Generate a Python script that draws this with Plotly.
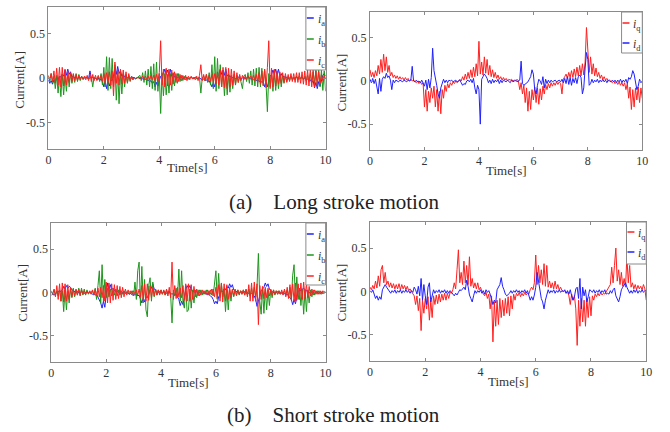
import numpy as np
import plotly.graph_objects as go

TIME_STEP = 0.05
N_SAMPLES = 201
TIME = np.round(np.arange(N_SAMPLES) * TIME_STEP, 2)

X_TICKS = [0, 2, 4, 6, 8, 10]
Y_TICKS = [-0.5, 0, 0.5]
Y_TICK_LABELS = ["-0.5", "0", "0.5"]

# (a) long stroke, phase currents
LONG_IA = [
    -0.02, -0.06, -0.03, -0.07, -0.02, -0.05, 0.01, -0.02, 0.02, 0.01, 0.04, 0.02, 0.09, 0.03, 0.10, 0.04, 0.07, 0.01, 0.02, 0.00,
    0.01, -0.01, 0.01, 0.00, 0.01, -0.01, 0.00, 0.01, 0.00, -0.01, 0.08, 0.00, 0.01, -0.01, 0.00, -0.02, 0.00, -0.03, -0.01, -0.04,
    -0.10, -0.03, -0.12, -0.04, -0.09, -0.02, -0.03, 0.02, 0.12, 0.04, 0.13, 0.05, 0.08, 0.02, 0.04, 0.01, 0.02, 0.00, 0.01, 0.00,
    0.00, 0.01, 0.00, -0.01, 0.00, 0.01, -0.01, 0.00, -0.01, -0.02, -0.01, -0.03, -0.02, -0.04, -0.03, -0.06, -0.04, -0.10, -0.05, -0.09,
    -0.03, 0.02, 0.03, 0.05, 0.10, 0.04, 0.09, 0.03, 0.10, 0.02, 0.05, 0.01, 0.02, 0.00, 0.01, 0.00, 0.01, -0.01, 0.00, 0.01,
    0.00, -0.01, 0.00, 0.01, 0.00, -0.01, 0.01, 0.00, -0.01, 0.00, -0.01, -0.02, -0.01, -0.03, -0.02, -0.04, -0.03, -0.06, -0.10, -0.05,
    -0.10, -0.03, 0.02, 0.04, 0.10, 0.04, 0.09, 0.03, 0.10, 0.02, 0.04, 0.01, 0.02, 0.00, 0.01, -0.01, 0.00, 0.01, 0.00, -0.01,
    0.00, 0.01, -0.01, 0.00, 0.01, 0.00, -0.01, -0.01, -0.02, -0.01, -0.03, -0.02, -0.04, -0.03, -0.05, -0.04, -0.10, -0.05, -0.10, -0.03,
    0.02, 0.04, 0.09, 0.04, 0.10, 0.03, 0.10, 0.02, 0.05, 0.01, 0.02, 0.00, 0.01, -0.01, 0.00, 0.01, 0.00, -0.01, 0.00, 0.01,
    0.00, -0.01, 0.00, 0.01, -0.01, 0.00, -0.02, -0.01, -0.03, -0.02, -0.05, -0.03, -0.11, -0.05, -0.12, -0.04, -0.09, -0.02, 0.03, 0.05,
    0.02,
]
LONG_IB = [
    0.03, -0.04, 0.05, -0.05, 0.02, -0.12, 0.03, -0.17, 0.02, -0.21, 0.04, -0.19, 0.03, -0.15, 0.05, -0.10, 0.05, -0.06, 0.04, -0.05,
    0.05, -0.04, 0.04, -0.03, 0.02, -0.02, 0.01, 0.00, 0.01, -0.01, 0.00, 0.01, -0.10, 0.01, 0.00, -0.02, 0.03, -0.04, 0.05, -0.08,
    0.12, -0.10, 0.24, -0.14, 0.23, -0.12, 0.22, -0.10, 0.15, -0.25, 0.08, -0.29, 0.06, -0.18, 0.05, -0.10, 0.04, -0.06, 0.03, -0.04,
    0.02, -0.02, 0.01, -0.01, 0.00, 0.01, 0.03, -0.03, 0.06, -0.05, 0.08, -0.08, 0.10, -0.10, 0.13, -0.12, 0.16, -0.14, 0.18, -0.15,
    0.05, -0.40, 0.06, -0.20, 0.05, -0.19, 0.04, -0.17, 0.05, -0.14, 0.06, -0.09, 0.05, -0.06, 0.05, -0.04, 0.03, -0.03, 0.02, -0.02,
    0.01, -0.01, 0.00, 0.01, -0.01, 0.00, 0.01, -0.01, 0.00, 0.01, -0.17, 0.00, 0.02, -0.03, 0.04, -0.05, 0.06, -0.08, 0.15, -0.12,
    0.24, -0.15, 0.22, -0.12, 0.15, -0.10, 0.08, -0.20, 0.05, -0.19, 0.04, -0.16, 0.03, -0.12, 0.04, -0.08, 0.03, -0.05, 0.02, -0.04,
    -0.12, 0.02, 0.04, -0.04, 0.06, -0.06, 0.08, -0.08, 0.10, -0.09, 0.11, -0.10, 0.12, -0.10, 0.11, -0.08, 0.10, -0.06, -0.38, 0.05,
    -0.10, 0.04, -0.15, 0.05, -0.14, 0.04, -0.12, 0.03, -0.10, 0.03, -0.06, 0.02, -0.04, 0.02, -0.03, 0.02, -0.02, 0.01, -0.02, 0.02,
    -0.02, 0.02, -0.01, 0.01, -0.02, 0.02, -0.03, 0.03, -0.04, 0.05, -0.05, 0.07, -0.06, 0.09, -0.08, 0.10, -0.10, 0.09, -0.14, 0.08,
    -0.15,
]
LONG_IC = [
    0.02, -0.02, 0.05, -0.04, 0.08, -0.06, 0.11, -0.08, 0.12, -0.10, 0.12, -0.09, 0.10, -0.08, 0.08, -0.05, 0.06, -0.04, 0.05, -0.03,
    0.04, -0.03, 0.03, -0.02, 0.02, -0.01, 0.02, -0.02, 0.03, -0.03, 0.04, -0.04, 0.04, -0.03, 0.03, -0.03, 0.02, -0.02, 0.03, -0.04,
    0.05, -0.06, 0.06, -0.05, 0.07, -0.08, 0.08, -0.20, 0.18, -0.06, 0.10, -0.08, 0.10, -0.07, 0.09, -0.06, 0.07, -0.05, 0.05, -0.03,
    0.02, -0.02, 0.01, -0.01, 0.01, 0.00, 0.01, -0.01, 0.02, -0.01, 0.02, -0.02, 0.02, -0.02, 0.03, -0.02, 0.03, -0.03, 0.04, -0.04,
    0.06, 0.42, -0.08, 0.10, -0.10, 0.11, -0.09, 0.10, -0.08, 0.09, -0.07, 0.07, -0.05, 0.05, -0.04, 0.04, -0.03, 0.03, -0.02, 0.03,
    -0.03, 0.02, -0.02, 0.02, -0.01, 0.01, -0.02, 0.02, -0.03, 0.03, 0.15, -0.03, 0.04, -0.03, 0.04, -0.04, 0.03, -0.04, 0.04, -0.05,
    0.05, -0.06, 0.07, -0.08, 0.09, -0.10, 0.12, -0.11, 0.12, -0.12, 0.11, -0.10, 0.10, -0.08, 0.08, -0.07, 0.06, -0.05, 0.04, -0.03,
    0.03, -0.02, 0.02, -0.02, 0.02, -0.01, 0.02, -0.02, 0.03, -0.03, 0.04, -0.05, 0.06, -0.07, 0.08, -0.09, 0.10, -0.11, 0.12, 0.42,
    -0.12, 0.11, -0.10, 0.10, -0.09, 0.08, -0.07, 0.07, -0.06, 0.06, -0.05, 0.05, -0.05, 0.04, -0.04, 0.05, -0.04, 0.05, -0.05, 0.06,
    -0.05, 0.06, -0.06, 0.07, -0.07, 0.08, -0.08, 0.09, -0.09, 0.10, -0.10, 0.09, -0.10, 0.08, -0.09, 0.07, -0.06, 0.04, -0.03, 0.02,
    0.00,
]

# (a) long stroke, dq currents
LONG_IQ = [
    0.13, 0.05, 0.10, 0.04, 0.12, 0.06, 0.18, 0.08, 0.25, 0.10, 0.31, 0.12, 0.28, 0.10, 0.18, 0.06, 0.10, 0.04, 0.07, 0.03,
    0.06, 0.02, 0.05, 0.02, 0.04, 0.01, 0.04, 0.01, 0.03, 0.00, 0.02, 0.00, 0.01, -0.01, -0.02, 0.00, -0.03, -0.01, -0.04, -0.02,
    -0.30, -0.10, -0.35, -0.12, -0.25, -0.08, -0.20, -0.06, -0.30, -0.10, -0.35, -0.12, -0.38, -0.10, -0.20, -0.05, -0.12, -0.03, -0.08, -0.02,
    -0.05, -0.01, -0.03, 0.00, -0.02, 0.00, 0.02, 0.00, 0.05, 0.01, 0.08, 0.02, 0.10, 0.03, 0.13, 0.04, 0.16, 0.05, 0.20, 0.06,
    0.46, 0.08, 0.22, 0.07, 0.28, 0.09, 0.25, 0.07, 0.18, 0.05, 0.13, 0.04, 0.10, 0.03, 0.07, 0.02, 0.05, 0.01, 0.04, 0.01,
    0.03, 0.00, 0.02, 0.01, 0.02, 0.00, 0.01, 0.00, 0.02, 0.00, -0.10, -0.02, -0.15, -0.05, -0.25, -0.08, -0.35, -0.12, -0.33, -0.10,
    -0.22, -0.07, -0.25, -0.08, -0.27, -0.09, -0.22, -0.06, -0.15, -0.04, -0.10, -0.03, -0.08, -0.02, -0.06, -0.02, -0.05, -0.01, -0.04, -0.01,
    -0.03, -0.15, 0.02, 0.05, 0.08, 0.03, 0.10, 0.04, 0.12, 0.04, 0.14, 0.05, 0.16, 0.06, 0.18, 0.06, 0.20, 0.07, 0.22, 0.62,
    0.30, 0.10, 0.28, 0.08, 0.20, 0.06, 0.15, 0.05, 0.10, 0.03, 0.07, 0.02, 0.05, 0.01, 0.03, 0.00, 0.01, -0.01, -0.02, 0.00,
    -0.03, -0.01, -0.04, -0.01, -0.05, -0.02, -0.06, -0.02, -0.10, -0.03, -0.20, -0.07, -0.33, -0.10, -0.30, -0.08, -0.22, -0.07, -0.25, -0.08,
    -0.20,
]
LONG_ID = [
    0.02, -0.02, 0.03, -0.03, 0.02, -0.05, -0.15, 0.03, -0.12, 0.02, 0.05, 0.03, 0.09, 0.04, 0.06, 0.01, -0.10, 0.01, -0.02, 0.01,
    0.00, -0.01, 0.01, 0.00, -0.01, 0.01, 0.00, -0.01, 0.01, 0.00, 0.01, 0.17, 0.00, -0.01, 0.01, -0.01, 0.00, -0.02, 0.01, -0.03,
    -0.06, 0.01, -0.10, 0.02, -0.08, 0.04, 0.38, 0.12, 0.05, -0.05, -0.15, -0.20, -0.08, -0.03, 0.02, -0.02, 0.01, -0.02, 0.01, 0.00,
    0.01, -0.01, 0.00, 0.01, -0.01, 0.00, 0.01, -0.02, -0.05, -0.03, -0.04, 0.00, 0.01, -0.01, 0.02, -0.02, 0.03, -0.08, -0.15, -0.05,
    -0.10, -0.50, 0.02, 0.05, 0.08, 0.06, 0.03, -0.02, 0.01, -0.03, 0.02, -0.02, 0.01, -0.01, 0.02, -0.03, 0.01, -0.02, 0.01, 0.00,
    -0.01, 0.01, 0.00, -0.02, 0.01, -0.01, 0.00, 0.01, -0.01, 0.00, 0.01, 0.23, -0.03, -0.05, -0.04, -0.02, -0.01, 0.02, 0.05, 0.13,
    0.08, -0.10, -0.15, -0.05, 0.02, 0.00, -0.04, 0.05, -0.08, 0.02, -0.03, 0.01, -0.02, 0.01, -0.01, 0.00, 0.01, -0.01, 0.00, 0.01,
    -0.01, 0.02, -0.02, 0.03, -0.03, 0.05, -0.04, 0.04, -0.05, 0.03, -0.02, 0.04, -0.03, 0.05, 0.07, 0.04, -0.15, -0.08, 0.15, 0.33,
    0.25, -0.05, -0.03, 0.02, -0.02, 0.01, -0.01, 0.02, -0.02, 0.01, -0.01, 0.02, -0.01, 0.01, -0.02, 0.01, 0.00, -0.01, 0.01, -0.01,
    0.01, -0.02, 0.01, -0.01, 0.02, -0.02, 0.01, -0.01, 0.02, -0.03, 0.04, 0.02, 0.05, 0.12, 0.08, -0.04, -0.10, -0.06, 0.02, -0.02,
    0.00,
]

# (b) short stroke, phase currents
SHORT_IA = [
    -0.03, -0.02, -0.03, -0.01, 0.00, 0.01, 0.02, 0.01, 0.03, 0.07, 0.04, 0.08, 0.05, 0.07, 0.06, 0.03, 0.02, 0.01, 0.00, 0.01,
    0.00, -0.01, 0.01, 0.00, -0.01, 0.00, 0.01, -0.01, 0.00, -0.01, -0.02, -0.01, -0.03, -0.02, -0.05, -0.08, -0.12, -0.18, -0.10, -0.17,
    -0.05, 0.11, 0.04, 0.09, 0.03, 0.05, 0.02, 0.01, 0.02, 0.00, 0.01, -0.01, 0.00, 0.01, -0.01, 0.00, -0.01, -0.02, -0.01, -0.03,
    -0.02, -0.03, -0.02, -0.04, -0.03, -0.08, -0.12, -0.06, -0.11, -0.05, -0.06, -0.02, 0.03, 0.05, 0.10, 0.04, 0.02, 0.01, 0.00, 0.01,
    0.00, -0.01, 0.01, 0.00, -0.01, 0.01, 0.00, -0.01, -0.02, -0.01, -0.03, -0.02, -0.05, -0.08, -0.15, -0.10, -0.14, -0.05, 0.03, 0.08,
    0.05, 0.08, 0.03, 0.02, 0.01, 0.00, 0.01, -0.01, 0.00, 0.01, -0.01, 0.00, -0.01, -0.02, -0.01, -0.03, -0.04, -0.05, -0.08, -0.13,
    -0.10, -0.13, -0.05, -0.02, 0.02, 0.01, 0.04, 0.03, 0.07, 0.05, 0.10, 0.06, 0.09, 0.03, 0.02, 0.01, 0.00, -0.01, 0.01, 0.00,
    0.00, 0.01, -0.01, 0.00, -0.01, -0.02, -0.01, -0.03, -0.04, -0.08, -0.16, -0.10, -0.05, 0.02, 0.04, 0.06, 0.11, 0.07, 0.10, 0.04,
    0.02, 0.01, 0.00, -0.01, 0.00, 0.01, -0.01, 0.00, -0.01, -0.02, -0.01, -0.03, -0.02, -0.04, -0.05, -0.08, -0.14, -0.08, -0.13, -0.04,
    0.01, 0.03, 0.02, 0.04, 0.05, 0.03, 0.02, 0.01, 0.00, -0.01, 0.01, 0.00, -0.01, 0.01, 0.00, -0.01, 0.01, 0.00, -0.01, 0.00,
    0.00,
]
SHORT_IB = [
    0.02, -0.02, 0.03, -0.03, 0.02, -0.04, 0.03, -0.10, 0.02, -0.22, 0.03, -0.20, 0.02, -0.12, 0.04, -0.06, 0.05, -0.05, 0.04, -0.03,
    0.05, -0.04, 0.05, -0.03, 0.04, -0.03, 0.03, -0.02, 0.01, 0.00, 0.02, -0.03, 0.05, -0.08, 0.08, 0.25, -0.12, 0.32, -0.10, 0.15,
    -0.06, 0.05, -0.05, 0.04, -0.04, 0.03, -0.03, 0.04, -0.04, 0.03, -0.03, 0.02, -0.02, 0.02, -0.01, 0.01, 0.00, 0.01, -0.01, 0.02,
    -0.04, 0.12, -0.08, 0.25, 0.35, -0.15, 0.30, -0.12, 0.15, -0.20, -0.28, 0.08, 0.17, -0.10, 0.12, -0.05, 0.04, -0.03, 0.03, -0.02,
    0.03, -0.02, 0.02, -0.03, 0.03, -0.02, 0.02, -0.03, -0.35, 0.03, -0.04, 0.05, -0.06, 0.27, -0.10, 0.25, -0.12, -0.18, 0.06, -0.22,
    -0.20, 0.04, -0.18, 0.03, -0.12, 0.03, -0.06, 0.03, -0.04, 0.03, -0.03, 0.02, -0.02, 0.03, -0.03, 0.02, -0.02, 0.04, -0.04, 0.08,
    0.25, -0.08, 0.22, -0.06, 0.10, -0.05, 0.04, -0.22, 0.03, -0.20, 0.03, -0.10, 0.03, -0.05, 0.04, -0.04, 0.03, -0.03, 0.02, -0.02,
    0.03, -0.03, 0.03, -0.03, 0.04, -0.04, 0.05, -0.06, 0.06, -0.05, 0.08, 0.45, -0.10, -0.25, 0.05, -0.24, 0.04, -0.20, 0.03, -0.15,
    0.03, -0.06, 0.03, -0.03, 0.02, -0.02, 0.02, -0.02, 0.01, -0.01, 0.02, -0.02, 0.03, -0.05, 0.06, -0.08, 0.20, 0.32, -0.10, 0.18,
    -0.08, 0.05, -0.15, 0.04, -0.25, 0.03, -0.22, 0.03, -0.12, 0.03, -0.05, 0.03, -0.03, 0.02, -0.02, 0.02, -0.02, 0.01, -0.01, 0.01,
    0.00,
]
SHORT_IC = [
    0.01, -0.02, 0.04, -0.05, 0.08, -0.08, 0.10, -0.10, 0.11, -0.11, 0.10, -0.10, 0.09, -0.08, 0.06, -0.05, 0.04, -0.04, 0.03, -0.03,
    0.04, -0.03, 0.03, -0.02, 0.02, -0.02, 0.01, -0.01, 0.02, -0.02, 0.03, -0.03, 0.04, -0.04, 0.05, -0.05, 0.06, -0.06, 0.08, -0.10,
    0.12, -0.12, 0.11, -0.12, 0.10, -0.09, 0.09, -0.08, 0.08, -0.07, 0.07, -0.06, 0.06, -0.05, 0.04, -0.03, 0.03, -0.02, 0.02, -0.02,
    0.02, -0.02, 0.03, -0.03, 0.04, -0.05, 0.08, -0.09, 0.10, -0.10, 0.10, -0.09, 0.08, -0.06, 0.05, -0.04, 0.04, -0.03, 0.03, -0.03,
    0.03, -0.02, 0.03, -0.03, 0.04, -0.04, 0.06, -0.06, 0.35, -0.08, 0.08, -0.07, 0.06, -0.05, 0.05, -0.06, 0.08, -0.09, 0.10, -0.10,
    0.10, -0.10, 0.09, -0.08, 0.07, -0.05, 0.04, -0.04, 0.03, -0.03, 0.03, -0.02, 0.02, -0.02, 0.03, -0.03, 0.03, -0.03, 0.04, -0.05,
    0.06, -0.07, 0.09, -0.10, 0.11, -0.11, 0.10, -0.10, 0.09, -0.08, 0.06, -0.05, 0.04, -0.04, 0.03, -0.03, 0.03, -0.02, 0.02, -0.02,
    0.03, -0.03, 0.04, -0.05, 0.09, -0.10, 0.11, -0.10, 0.12, -0.10, 0.10, -0.37, 0.08, -0.08, 0.07, -0.07, 0.06, -0.06, 0.05, -0.04,
    0.04, -0.03, 0.03, -0.02, 0.02, -0.02, 0.02, -0.02, 0.03, -0.03, 0.04, -0.05, 0.06, -0.07, 0.09, -0.09, 0.10, -0.10, 0.11, -0.09,
    0.10, -0.08, 0.11, -0.08, 0.12, -0.07, 0.10, -0.06, 0.07, -0.04, 0.04, -0.03, 0.03, -0.02, 0.02, -0.02, 0.02, -0.02, 0.02, -0.01,
    0.01,
]

# (b) short stroke, dq currents
SHORT_IQ = [
    0.05, 0.02, 0.07, 0.03, 0.12, 0.04, 0.18, 0.06, 0.25, 0.30, 0.10, 0.22, 0.08, 0.12, 0.05, 0.10, 0.04, 0.09, 0.03, 0.08,
    0.03, 0.09, 0.02, 0.08, 0.03, 0.07, 0.02, 0.06, 0.01, 0.03, 0.00, -0.02, -0.05, -0.15, -0.05, -0.22, -0.08, -0.45, -0.10, -0.25,
    -0.08, -0.20, -0.06, -0.33, -0.10, -0.30, -0.05, -0.15, -0.04, -0.14, -0.03, -0.12, -0.03, -0.10, -0.02, -0.10, -0.02, -0.08, -0.01, -0.02,
    0.02, 0.10, 0.03, 0.25, 0.48, 0.10, 0.22, 0.08, 0.35, 0.10, 0.30, 0.08, 0.40, 0.06, 0.15, 0.04, 0.10, 0.03, 0.10, 0.02,
    0.05, 0.00, -0.02, -0.05, -0.01, -0.08, -0.03, -0.20, -0.05, -0.58, -0.12, -0.40, -0.10, -0.38, -0.08, -0.30, -0.10, -0.28, -0.08, -0.25,
    -0.06, -0.28, -0.05, -0.20, -0.03, -0.10, -0.02, -0.05, -0.01, -0.06, -0.02, -0.05, -0.01, -0.04, -0.02, -0.03, 0.02, 0.05, 0.02, 0.10,
    0.42, 0.08, 0.30, 0.10, 0.25, 0.08, 0.32, 0.06, 0.30, 0.05, 0.12, 0.04, 0.10, 0.03, 0.12, 0.03, 0.08, 0.02, 0.05, 0.01,
    0.00, 0.01, -0.02, 0.00, -0.05, -0.15, -0.03, -0.10, -0.05, -0.20, -0.62, -0.10, -0.40, -0.08, -0.35, -0.10, -0.40, -0.08, -0.30, -0.06,
    -0.28, -0.05, -0.10, -0.03, -0.06, -0.02, -0.05, -0.01, -0.04, -0.02, -0.03, 0.00, 0.02, 0.05, 0.08, 0.28, 0.10, 0.30, 0.50, 0.12,
    0.25, 0.08, 0.22, 0.06, 0.15, 0.05, 0.40, 0.10, 0.30, 0.05, 0.10, 0.03, 0.08, 0.02, 0.07, 0.03, 0.06, 0.02, 0.08, 0.03,
    -0.10,
]
SHORT_ID = [
    0.01, -0.01, 0.02, -0.03, -0.08, -0.05, -0.10, -0.06, -0.09, 0.02, 0.06, 0.08, 0.05, 0.03, 0.01, -0.02, 0.01, -0.01, 0.02, -0.02,
    0.01, -0.01, 0.02, -0.02, 0.01, -0.01, 0.02, -0.01, 0.01, -0.02, 0.01, -0.01, 0.05, 0.02, -0.03, 0.06, -0.05, 0.15, -0.10, 0.08,
    -0.05, -0.15, 0.05, 0.10, -0.12, -0.03, 0.02, -0.02, 0.01, -0.01, 0.02, -0.02, 0.01, -0.01, 0.02, -0.02, 0.01, -0.02, 0.01, -0.01,
    -0.03, -0.05, -0.02, -0.04, -0.01, 0.02, 0.01, 0.03, 0.05, 0.02, 0.13, 0.06, -0.04, -0.08, -0.12, -0.05, 0.01, -0.02, 0.01, -0.01,
    0.02, -0.02, 0.01, -0.03, 0.02, -0.01, 0.01, -0.03, -0.08, -0.15, -0.10, -0.13, 0.02, 0.05, 0.08, 0.16, 0.06, 0.02, -0.03, -0.05,
    -0.04, -0.02, 0.01, -0.02, 0.01, -0.01, 0.02, -0.01, 0.01, -0.02, 0.01, -0.01, 0.02, -0.02, 0.01, -0.05, -0.10, -0.06, -0.10, -0.04,
    0.05, 0.22, 0.10, 0.04, -0.08, -0.12, -0.20, -0.10, -0.04, 0.02, -0.02, 0.01, -0.01, 0.02, -0.02, 0.01, -0.01, 0.02, -0.01, 0.01,
    0.00, 0.02, -0.02, 0.01, -0.03, 0.02, -0.05, -0.10, -0.06, 0.03, 0.05, -0.08, 0.15, -0.20, 0.05, -0.05, 0.02, -0.12, -0.06, 0.02,
    0.01, -0.01, 0.02, -0.02, 0.01, -0.01, 0.02, -0.02, 0.01, -0.01, 0.02, -0.03, -0.02, -0.03, 0.01, -0.02, 0.02, 0.04, -0.05, -0.08,
    -0.12, -0.06, 0.02, 0.05, 0.08, 0.10, 0.05, 0.02, -0.02, 0.01, -0.02, 0.02, -0.01, 0.02, -0.02, 0.01, -0.01, 0.02, -0.01, 0.01,
    0.00,
]

for _name, _arr in [("LONG_IA", LONG_IA), ("LONG_IB", LONG_IB), ("LONG_IC", LONG_IC),
                    ("LONG_IQ", LONG_IQ), ("LONG_ID", LONG_ID), ("SHORT_IA", SHORT_IA),
                    ("SHORT_IB", SHORT_IB), ("SHORT_IC", SHORT_IC), ("SHORT_IQ", SHORT_IQ),
                    ("SHORT_ID", SHORT_ID)]:
    assert len(_arr) == N_SAMPLES, (_name, len(_arr))

PHASE_NAMES = ["a", "b", "c"]
DQ_NAMES = ["q", "d"]
CAPTIONS = ["(a)\u00a0\u00a0\u00a0\u00a0Long stroke motion", "(b)\u00a0\u00a0\u00a0\u00a0Short stroke motion"]

# ---------------- styling ----------------
W, H = 670, 432
RED = "#ff2020"
BLUE = "#2020ff"
GREEN = "#1e961e"
SERIF = "Liberation Serif, Times New Roman, serif"
TXT = "#333333"
AXLINE = "#8a8a8a"


def px(x, y):
    return x / W, 1 - y / H


# panel boxes in pixels: (left, top, right, bottom)
PANELS = {
    1: (46, 7, 327, 149),
    2: (372, 12, 648, 150),
    3: (49, 223, 327, 362),
    4: (372, 222, 652, 361),
}

fig = go.Figure()


def add_line(panel, y, color, name):
    sfx = "" if panel == 1 else str(panel)
    fig.add_trace(go.Scatter(
        x=TIME, y=y, mode="lines", name=name,
        line=dict(color=color, width=1),
        xaxis="x" + sfx, yaxis="y" + sfx, showlegend=False,
    ))


add_line(1, LONG_IA, BLUE, "i_a")
add_line(1, LONG_IB, GREEN, "i_b")
add_line(1, LONG_IC, RED, "i_c")
add_line(2, LONG_IQ, RED, "i_q")
add_line(2, LONG_ID, BLUE, "i_d")
add_line(3, SHORT_IA, BLUE, "i_a")
add_line(3, SHORT_IB, GREEN, "i_b")
add_line(3, SHORT_IC, RED, "i_c")
add_line(4, SHORT_IQ, RED, "i_q")
add_line(4, SHORT_ID, BLUE, "i_d")

layout = dict(
    width=W, height=H, margin=dict(l=0, r=0, t=0, b=0),
    paper_bgcolor="white", plot_bgcolor="white", showlegend=False,
)

tickfont = dict(family=SERIF, size=12, color=TXT)
for p, (l, t, r, b) in PANELS.items():
    sfx = "" if p == 1 else str(p)
    x0, y1 = px(l, t)
    x1, y0 = px(r, b)
    layout["xaxis" + sfx] = dict(
        domain=[x0, x1], anchor="y" + sfx, range=[0, 10],
        tickvals=X_TICKS, ticks="inside", ticklen=3, tickcolor=AXLINE,
        showline=True, linecolor=AXLINE, linewidth=1, mirror="allticks",
        showgrid=False, zeroline=False, tickfont=tickfont,
    )
    layout["yaxis" + sfx] = dict(
        domain=[y0, y1], anchor="x" + sfx, range=[-0.8, 0.8],
        tickvals=Y_TICKS, ticktext=Y_TICK_LABELS, ticks="inside", ticklen=3,
        tickcolor=AXLINE, showline=True, linecolor=AXLINE, linewidth=1,
        mirror="allticks", showgrid=False, zeroline=False, tickfont=tickfont,
    )

fig.update_layout(**layout)

annotations = []
shapes = []

# axis titles
XTITLE_POS = {1: (187, 167), 2: (510, 170), 3: (188, 382), 4: (512, 381)}
YTITLE_POS = {1: (17, 80), 2: (343, 82), 3: (19, 293), 4: (343, 292)}
for p in PANELS:
    ax, ay = px(*XTITLE_POS[p])
    annotations.append(dict(text="Time[s]", x=ax, y=ay, xref="paper", yref="paper",
                            showarrow=False, xanchor="center", yanchor="middle",
                            font=dict(family=SERIF, size=13, color=TXT)))
    ax, ay = px(*YTITLE_POS[p])
    annotations.append(dict(text="Current[A]", x=ax, y=ay, xref="paper", yref="paper",
                            showarrow=False, xanchor="center", yanchor="middle",
                            textangle=-90,
                            font=dict(family=SERIF, size=13, color=TXT)))

# captions
for cap, cy in zip(CAPTIONS, [202, 415]):
    ax, ay = px(335, cy)
    annotations.append(dict(text=cap, x=ax, y=ay, xref="paper", yref="paper",
                            showarrow=False, xanchor="center", yanchor="middle",
                            font=dict(family=SERIF, size=21, color="#222222")))

# legends (box, short line sample, italic symbol with subscript)
LEGENDS = [
    ((307, 7, 327, 70), [18, 39, 60], [BLUE, GREEN, RED], PHASE_NAMES),
    ((627, 12, 648, 53), [23, 43], [RED, BLUE], DQ_NAMES),
    ((307, 223, 327, 285), [234, 255, 276], [BLUE, GREEN, RED], PHASE_NAMES),
    ((632, 222, 652, 264), [232, 252], [RED, BLUE], DQ_NAMES),
]
for (l, t, r, b), ys, cols, names in LEGENDS:
    x0, y1 = px(l, t)
    x1, y0 = px(r, b)
    shapes.append(dict(type="rect", xref="paper", yref="paper", x0=x0, x1=x1, y0=y0, y1=y1,
                       line=dict(color=AXLINE, width=1), fillcolor="white", layer="above"))
    for yy, c, nm in zip(ys, cols, names):
        a0, yp = px(l + 1, yy)
        a1, _ = px(l + 8, yy)
        shapes.append(dict(type="line", xref="paper", yref="paper", x0=a0, x1=a1, y0=yp, y1=yp,
                           line=dict(color=c, width=1.5), layer="above"))
        tx, ty = px(l + 10, yy + 2)
        annotations.append(dict(text="<i>i</i><sub>%s</sub>" % nm, x=tx, y=ty,
                                xref="paper", yref="paper", showarrow=False,
                                xanchor="left", yanchor="middle",
                                font=dict(family=SERIF, size=12, color=TXT)))

fig.update_layout(annotations=annotations, shapes=shapes)
fig.write_html("out.html", config={"displayModeBar": False},
               post_script="document.body.style.margin='0px';")
